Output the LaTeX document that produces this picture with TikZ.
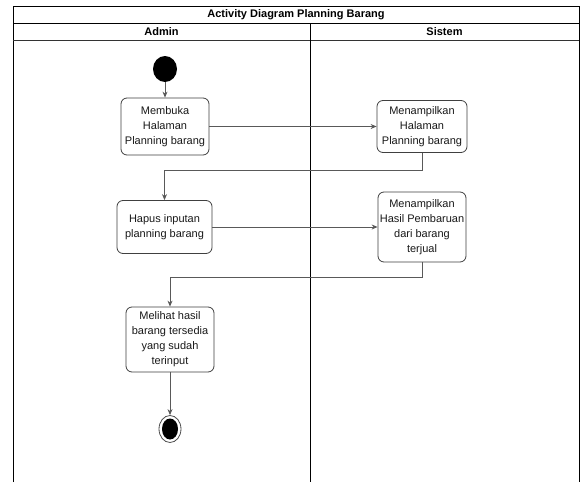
\documentclass[tikz,border=0pt]{standalone}
\usepackage{fontspec}
\setmainfont{Liberation Sans}
\usetikzlibrary{arrows.meta,shapes.geometric}
\begin{document}
\begin{tikzpicture}[x=1pt,y=-1pt,
  lane/.style={draw=black,line width=0.8pt},
  act/.style={draw=black!75,line width=0.8pt,rounded corners=6pt,align=center,
    inner sep=1pt,font=\fontsize{11}{15}\selectfont,text=black!90},
  flow/.style={draw=black!65,line width=0.8pt,-{Stealth[length=6pt,width=5pt]}},
  hdr/.style={font=\fontsize{11}{13}\selectfont\bfseries,inner sep=0pt}]
\useasboundingbox (0,0) rectangle (586,482);
\fill[white] (0,0) rectangle (586,482);

% swimlane frame
\draw[lane] (13,482) -- (13,6) -- (579,6) -- (579,482);
\draw[lane] (13,23) -- (579,23);
\draw[lane,draw=black!80] (13,40) -- (579,40);
\draw[lane] (310,23) -- (310,482);
\node[hdr] (title) at (296,14.5) {Activity Diagram Planning Barang};
\node[hdr] (admin) at (161.5,31.5) {Admin};
\node[hdr] (sistem) at (444.5,31.5) {Sistem};

% initial and final states
\node[ellipse,fill=black,minimum width=24pt,minimum height=26pt,inner sep=0pt] (start) at (165,69) {};
\node[ellipse,draw=black!70,line width=0.8pt,fill=white,minimum width=22pt,minimum height=27pt,inner sep=0pt] (end) at (170,429) {};
\node[ellipse,fill=black,minimum width=16pt,minimum height=21pt,inner sep=0pt] (endin) at (end.center) {};

% activities
\node[act,minimum width=88pt,minimum height=57pt] (b1) at (165,126.5) {Membuka\\Halaman\\Planning barang};
\node[act,minimum width=90pt,minimum height=52pt] (b2) at (422,126.5) {Menampilkan\\Halaman\\Planning barang};
\node[act,minimum width=95pt,minimum height=53pt] (b3) at (164.5,227) {Hapus inputan\\planning barang};
\node[act,minimum width=88pt,minimum height=70pt] (b4) at (422,227) {Menampilkan\\Hasil Pembaruan\\dari barang\\terjual};
\node[act,minimum width=88pt,minimum height=65pt] (b5) at (170,339.5) {Melihat hasil\\barang tersedia\\yang sudah\\terinput};

% control flow
\draw[flow] (start) -- (b1);
\draw[flow] (b1.east) -- (b1.east -| b2.west);
\draw[flow] (b2.south) -- ++(0,17) -| (b3.north);
\draw[flow] (b3.east) -- (b3.east -| b4.west);
\draw[flow] (b4.south) -- ++(0,15) -| (b5.north);
\draw[flow] (b5.south) -- (end.north);
\end{tikzpicture}
\end{document}
